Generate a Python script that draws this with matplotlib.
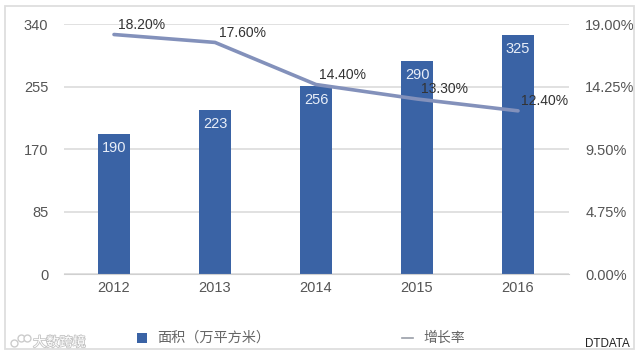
import matplotlib
matplotlib.use('Agg')
import matplotlib.pyplot as plt
from matplotlib.patches import Rectangle
from matplotlib.lines import Line2D
from matplotlib import patheffects

plt.rcParams['font.family'] = ['Liberation Sans', 'Noto Sans CJK SC', 'DejaVu Sans']

years = ['2012', '2013', '2014', '2015', '2016']
area = [190, 223, 256, 290, 325]
growth = [18.2, 17.6, 14.4, 13.3, 12.4]
left_ticks = [0, 85, 170, 255, 340]
right_ticks = [0, 4.75, 9.5, 14.25, 19]

W, H = 640, 357
fig = plt.figure(figsize=(W / 100, H / 100), dpi=100, facecolor='white')

# outer frame
fig.add_artist(Rectangle((5 / W, 1 - 349 / H), 629 / W, 343 / H, transform=fig.transFigure,
                         fill=False, edgecolor='#dedede', linewidth=1.3))

ax = fig.add_axes([63.5 / W, 1 - 274 / H, 505 / W, 250 / H])
x = range(len(years))
ax.bar(x, area, width=0.31, color='#3a63a5', zorder=2)
ax.set_xlim(-0.5, 4.5)
ax.set_ylim(0, 340)
ax.set_yticks(left_ticks)
ax.set_xticks(list(x))
ax.set_xticklabels(years)
ax.grid(axis='y', color='#dcdcdc', linewidth=1.2, zorder=0)
ax.set_axisbelow(True)
ax.tick_params(length=0, labelsize=10.5, labelcolor='#555555')
ax.tick_params(axis='x', pad=5)
ax.tick_params(axis='y', pad=11)
for s in ['top', 'left', 'right']:
    ax.spines[s].set_visible(False)
ax.spines['bottom'].set_color('#d0d0d0')

for i, v in enumerate(area):
    ax.annotate(str(v), (i, v), xytext=(0, -10), textcoords='offset points', ha='center',
                va='center', color='#e8eef8', fontsize=10.5, zorder=6)

ax2 = ax.twinx()
ax2.plot(x, growth, color='#8391bb', linewidth=2.6, solid_capstyle='round', zorder=4)
ax2.set_ylim(0, 19)
ax2.set_yticks(right_ticks)
ax2.set_yticklabels([f'{t:.2f}%' for t in right_ticks])
ax2.tick_params(length=0, labelsize=10.5, labelcolor='#555555', pad=12)
for s in ax2.spines.values():
    s.set_visible(False)

label_off = [(28, 3), (27, 2), (27, 3), (27, 3), (27, 3)]
for i, v in enumerate(growth):
    ax2.annotate(f'{v:.2f}%', (i, v), xytext=label_off[i], textcoords='offset pixels', ha='center',
                 va='bottom', color='#333333', fontsize=10, zorder=7)

# legend
fig.add_artist(Rectangle((137 / W, 1 - 343 / H), 10 / W, 10 / H, transform=fig.transFigure,
                         facecolor='#3a63a5', edgecolor='none'))
fig.text(157 / W, 1 - 338 / H, '面积（万平方米）', fontsize=10.2, color='#666666', va='center')
fig.add_artist(Line2D([402 / W, 413 / W], [1 - 338 / H, 1 - 338 / H], color='#9a9ea8', linewidth=1.2))
fig.text(423 / W, 1 - 338 / H, '增长率', fontsize=10, color='#666666', va='center')

fig.text(630 / W, 1 - 344 / H, 'DTDATA', fontsize=8.4, color='#222222', ha='right', va='center')

# watermark
wm = fig.text(33 / W, 1 - 343 / H, '大数跨境', fontsize=9.5, color='white', va='center')
wm.set_path_effects([patheffects.withStroke(linewidth=1.2, foreground='#c4c4c4')])
fig.add_artist(Line2D([14 / W, 21 / W, 27 / W], [1 - 343 / H, 1 - 338 / H, 1 - 338 / H], linestyle='none',
                      marker='o', markersize=5, markerfacecolor='white', markeredgecolor='#cccccc'))

fig.savefig('out.png', dpi=100)
